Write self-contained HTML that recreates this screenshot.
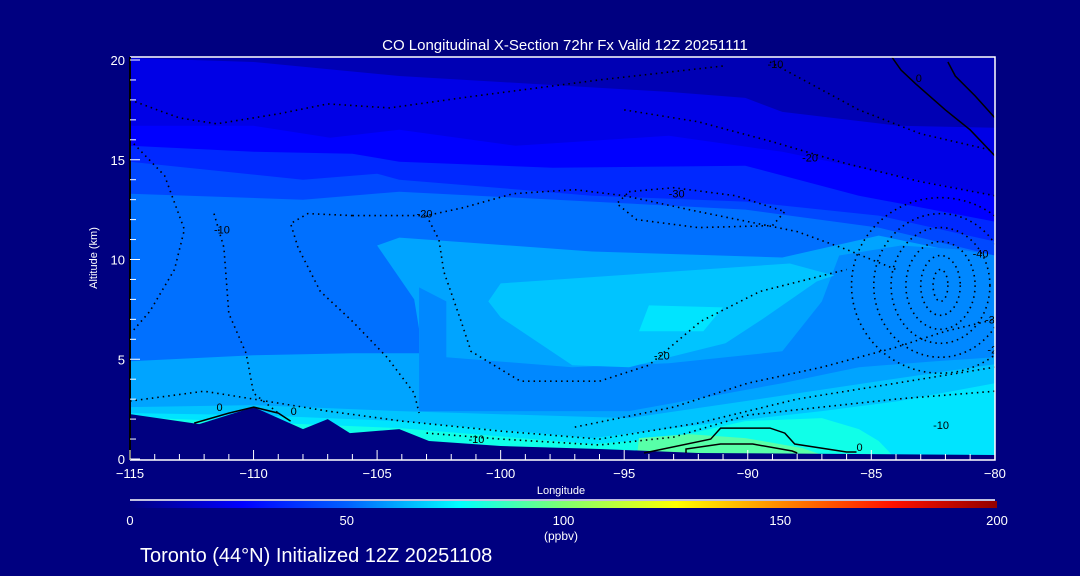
<!DOCTYPE html>
<html><head><meta charset="utf-8"><style>
body{margin:0;background:#000080;}
svg{display:block;font-family:"Liberation Sans",sans-serif;}
</style></head><body>
<svg id="chart" width="1080" height="576" viewBox="0 0 1080 576" xmlns="http://www.w3.org/2000/svg">
<defs>
<linearGradient id="cbar" x1="0" x2="1" y1="0" y2="0">
<stop offset="0" stop-color="#000080"/><stop offset="0.13" stop-color="#0000ff"/><stop offset="0.25" stop-color="#0060ff"/><stop offset="0.38" stop-color="#00ffff"/><stop offset="0.5" stop-color="#80ff70"/><stop offset="0.63" stop-color="#ffff00"/><stop offset="0.76" stop-color="#ff8000"/><stop offset="0.88" stop-color="#ff1000"/><stop offset="1" stop-color="#900000"/>
</linearGradient>
<clipPath id="plotclip"><rect x="130" y="57" width="865" height="403"/></clipPath>
</defs>
<rect width="1080" height="576" fill="#000080"/>
<g id="fills" clip-path="url(#plotclip)"></g>
<g id="contours" clip-path="url(#plotclip)"></g>
<g id="axes"></g>
<text x="565" y="50" fill="#fff" font-size="15" text-anchor="middle">CO Longitudinal X-Section 72hr  Fx Valid 12Z 20251111</text>
<text x="97" y="258" fill="#fff" font-size="11" text-anchor="middle" transform="rotate(-90 97 258)">Altitude (km)</text>
<text x="561" y="494" fill="#fff" font-size="11" text-anchor="middle">Longitude</text>
<line x1="130" y1="500" x2="995" y2="500" stroke="#fff" stroke-width="1.5"/>
<rect x="130" y="501" width="867" height="7" fill="url(#cbar)"/>
<g id="cbticks"></g>
<text x="561" y="540" fill="#fff" font-size="12" text-anchor="middle">(ppbv)</text>
<text x="140" y="562" fill="#fff" font-size="20">Toronto (44°N) Initialized 12Z 20251108</text>
</svg>
<script>
// Axis ranges
const lonTicks = [-115,-110,-105,-100,-95,-90,-85,-80];
const altTicks = [0,5,10,15,20];
const cbarTicks = [0,50,100,150,200];
// Contour fill bands (lon, alt) - boundary lines, filled downward
const bandColors = ['#0000e6','#0000ff','#0028ff','#0048ff','#0070ff'];
const band1 = [[-115,20.1],[-110,19.9],[-104.1,19.2],[-93.2,18.4],[-90.1,18.1],[-88.6,17.4],[-83.9,16.7],[-80,16.6]];
const band2 = [[-115,16.7],[-110,16.7],[-106.9,16.1],[-104.1,16.5],[-99.4,15.7],[-93.2,16.2],[-88.6,15.4],[-83.9,14.2],[-80,13.2]];
const band3 = [[-115,15.7],[-110,15.4],[-106,15.3],[-104.1,14.9],[-97.9,14.6],[-90.1,14.7],[-85.5,13.2],[-80,11.9]];
const band4 = [[-115,14.9],[-108,14.0],[-105,14.3],[-104.1,14.0],[-96.3,13.2],[-90.1,12.9],[-84.7,12.2],[-80,10.9]];
const band5 = [[-115,13.3],[-108,13.0],[-104.1,13.4],[-96.3,12.9],[-90.1,12.5],[-84.7,11.6],[-80,10.2]];
const band6 = [[-115,4.9],[-110,5.2],[-106,5.3],[-103.3,5.3],[-103.3,6.5],[-103.5,8],[-105,10.7],[-104.1,11.1],[-96.3,10.4],[-88.6,10.1],[-84.7,11.2],[-80.8,10.2],[-80,9.8]];
const patchDark = [[-103.3,8.6],[-102.2,7.9],[-102.2,5.1],[-97.1,4.6],[-93.2,4.8],[-88.6,5.4],[-87,7.9],[-86.3,10.2],[-83.8,10.7],[-81.4,10.5],[-80,10.2],[-80,5.1],[-82.4,4.9],[-85.5,4.6],[-88.6,3.8],[-91.7,3.1],[-94.8,2.4],[-103.3,2.4]];
const patchLight = [[-100.5,7.9],[-100,8.8],[-88.3,9.8],[-86.5,9.2],[-87.2,8.9],[-89.3,7.1],[-90.9,5.8],[-94.8,4.6],[-97.1,4.7],[-100,7.1]];
const patchLighter = [[-94,7.7],[-91,7.6],[-91.8,6.4],[-94.4,6.4]];
const surf1 = [[-115,2.6],[-110,2.7],[-104.1,2.4],[-94.8,2.05],[-90.1,2.9],[-83.9,4.05],[-80,4.75]];
const surf2 = [[-115,2.3],[-110,2.2],[-104.1,1.9],[-96.3,1.05],[-91.7,1.75],[-87,2.4],[-83.9,2.9],[-80,3.8]];
const surf3 = [[-115,2.1],[-104.1,1.55],[-96.3,0.75],[-93.2,1.05],[-90.1,1.9],[-87,2.05],[-85.5,1.5],[-84.7,0.9],[-84,0]];
const surf4 = [[-94.5,0],[-94.4,1.05],[-92.4,1.25],[-90.1,1.05],[-87.8,0.55],[-86.5,0]];
const terrain = [[-115,2.25],[-112.2,1.75],[-110,2.6],[-108,1.5],[-107,2.0],[-106.1,1.3],[-104.1,1.5],[-102.9,0.9],[-100,0.65],[-96,0.5],[-92,0.3],[-80,0.2]];
// Contour lines
const solidTop1 = [[-84.2,20.2],[-83.8,19.5],[-83.2,18.8],[-82,17.5],[-81,16.5],[-80,15.2]];
const solidTop2 = [[-81.9,19.9],[-81.6,19.2],[-80.8,18.2],[-80,17.1]];
const solidSurfOuter = [[-94.2,0.3],[-91.5,1.0],[-91.1,1.55],[-89.1,1.55],[-88.5,1.3],[-88.1,0.75],[-86,0.35],[-85.6,0.35]];
const solidSurfInner = [[-92.5,0.3],[-92.5,0.5],[-91.1,0.75],[-89.8,0.75],[-88.2,0.4],[-88,0.3]];
const solidLeft = [[-112.4,1.8],[-111,2.3],[-110,2.6],[-109,2.3],[-108.5,1.9]];
const dotA = [[-115,16],[-113.6,14.2],[-112.8,11.5],[-113.2,9.5],[-114.2,7.4],[-114.9,6.4]];
const dotB = [[-111.6,12.3],[-111.2,10.6],[-111,7.3],[-110.3,5.3],[-110,3.3],[-109,2.3]];
const dotC = [[-106,12.2],[-107.8,12.3],[-108.5,11.8],[-108.2,10.6],[-107.3,8.4],[-106,6.9],[-104.6,5.1],[-103.5,3.3],[-103.3,2.3]];
const dotD = [[-106,12.2],[-103,12.2],[-101.5,12.6],[-99.5,13.3],[-97,13.5],[-95,13.2],[-92,12.4],[-88,11.4],[-86,10.5],[-84,9.5]];
const dotE = [[-103,12.2],[-102.5,11],[-102.3,9.4],[-101.6,6.9],[-101.2,5.4],[-99.2,3.9],[-96,3.9],[-94,4.7],[-91.9,6.9],[-90.3,7.9],[-89.5,8.4],[-87.9,8.9],[-86,9.5]];
const dotF = [[-94.8,13.4],[-93,13.6],[-90.5,13.2],[-88.5,12.4],[-89,11.7],[-92,11.6],[-94.5,12],[-95.3,12.8],[-94.8,13.4]];
const dotG = [[-115,2.9],[-112,3.4],[-110,3.0],[-107,2.4],[-104,1.9],[-100,1.4],[-96,1.0],[-92,1.8],[-88,3.0],[-84,3.8],[-80,4.6]];
const dotH = [[-103,1.3],[-100,1.0],[-96,0.7],[-93,1.1],[-90,2.2],[-87,2.6],[-84,3.0],[-80,3.4]];
const dotI = [[-97,1.6],[-93,2.6],[-90,3.8],[-87,4.6],[-84,5.6],[-82,6.4],[-80,7.0]];
const dotJ = [[-89.1,19.9],[-87,18.5],[-85.5,17.5],[-83,16.3],[-80.2,15.5]];
const dotK = [[-115,18],[-113,17.1],[-111.5,16.8],[-109,17.3],[-107,17.8],[-104.5,17.6],[-101,18.2],[-96,19],[-91,19.7]];
const dotL = [[-95,17.5],[-92,16.9],[-89,15.9],[-86,14.8],[-83,13.9],[-80,13.2]];
const blobCenter = [-82.2,8.7];
const blobRadLon = [0.3,0.8,1.4,2.0,2.7,3.6];
const blobRadAlt = [0.8,1.5,2.2,2.9,3.6,4.4];
const contourLabels = [["-10",-89.2,19.6],["-20",-87.8,14.9],["-30",-93.2,13.1],["-20",-103.4,12.1],["-10",-111.6,11.3],["-40",-80.9,10.1],["-30",-80.4,6.8],["-20",-80.3,5.3],["-10",-82.5,1.5],["-10",-101.3,0.8],["0",-111.5,2.4],["0",-108.5,2.2],["0",-85.6,0.4],["-20",-93.8,5.0],["0",-83.2,18.9]];

const X = lon => 130 + (lon + 115) * 24.71;
const Y = alt => 459 - alt * 19.95;
const NS = 'http://www.w3.org/2000/svg';
const fills = document.getElementById('fills');
const cont = document.getElementById('contours');
const axes = document.getElementById('axes');
function pts(arr){return arr.map(p => X(p[0]).toFixed(1)+','+Y(p[1]).toFixed(1)).join(' ');}
function downPoly(arr){
  const a = arr.slice();
  return pts(a) + ' ' + X(a[a.length-1][0]).toFixed(1)+','+Y(-1) + ' ' + X(a[0][0]).toFixed(1)+','+Y(-1);
}
function addPoly(parent, p, fill, name){
  const e = document.createElementNS(NS,'polygon');
  e.setAttribute('points', p); e.setAttribute('fill', fill);
  
  
  parent.appendChild(e);
}
function addLine(parent, arr, dotted, name){
  const e = document.createElementNS(NS,'polyline');
  e.setAttribute('points', pts(arr)); e.setAttribute('fill','none'); e.setAttribute('stroke','#000');
  e.setAttribute('stroke-width', dotted ? '1.6' : '1.5');
  if (dotted) e.setAttribute('stroke-dasharray','1.5,4');
  
  
  parent.appendChild(e);
}
const topRect = document.createElementNS(NS,'rect');
topRect.setAttribute('x',130); topRect.setAttribute('y',57); topRect.setAttribute('width',865); topRect.setAttribute('height',403); topRect.setAttribute('fill','#0000b4');


fills.appendChild(topRect);
[band1,band2,band3,band4,band5].forEach((b,i)=>addPoly(fills, downPoly(b), bandColors[i], 'fill-band-'+(i+1)));
addPoly(fills, downPoly(band6), '#00a4ff', 'fill-band-6');
addPoly(fills, pts(patchDark), '#0088ff', 'fill-patch-dark');
addPoly(fills, pts(patchLight), '#00c4ff', 'fill-patch-light');
addPoly(fills, pts(patchLighter), '#00e4ff', 'fill-patch-lighter');
addPoly(fills, downPoly(surf1), '#00c4ff', 'fill-surface-1');
addPoly(fills, downPoly(surf2), '#00e4ff', 'fill-surface-2');
addPoly(fills, downPoly(surf3), '#10ffe8', 'fill-surface-3');
addPoly(fills, downPoly(surf4), '#58ffa8', 'fill-surface-4');
addPoly(fills, downPoly(terrain), '#000080', 'terrain');
addLine(cont, solidTop1, false, 'contour-zero-top');
addLine(cont, solidTop2, false, 'contour-zero-top-2');
addLine(cont, solidSurfOuter, false, 'contour-surface-outer');
addLine(cont, solidSurfInner, false, 'contour-surface-inner');
addLine(cont, solidLeft, false, 'contour-zero-left');
[dotA,dotB,dotC,dotD,dotE,dotF,dotG,dotH,dotI,dotJ,dotK,dotL].forEach((d,i)=>addLine(cont, d, true, 'contour-dotted-'+i));
blobRadLon.forEach((rl,i)=>{
  const e = document.createElementNS(NS,'ellipse');
  e.setAttribute('cx', X(blobCenter[0])); e.setAttribute('cy', Y(blobCenter[1]));
  e.setAttribute('rx', rl*24.71); e.setAttribute('ry', blobRadAlt[i]*19.95);
  e.setAttribute('fill','none'); e.setAttribute('stroke','#000'); e.setAttribute('stroke-width','1.6'); e.setAttribute('stroke-dasharray','1.5,4');
  
  
  cont.appendChild(e);
});
contourLabels.forEach(l=>{
  const t = document.createElementNS(NS,'text');
  t.setAttribute('x', X(l[1])); t.setAttribute('y', Y(l[2])); t.setAttribute('font-size','11'); t.setAttribute('fill','#000');
  t.textContent = l[0];
  
  
  cont.appendChild(t);
});
function mk(tag, attrs, parent){const e=document.createElementNS(NS,tag);for(const k in attrs)e.setAttribute(k,attrs[k]);parent.appendChild(e);return e;}
const frame = mk('path',{d:'M130,57 H995 V460 H130',fill:'none',stroke:'#fff','stroke-width':'1.5'},axes);


const leftAxis = mk('line',{x1:130,y1:57,x2:130,y2:460,stroke:'#000','stroke-width':'2'},axes);


for(let lon=-115; lon<=-80; lon++){
  const major = lonTicks.includes(lon);
  const t = mk('line',{x1:X(lon),x2:X(lon),y1:460,y2:major?450:454,stroke:'#fff','stroke-width':'1'},axes);
  
  
}
lonTicks.forEach(v=>{
  const t = mk('text',{x:X(v),y:478,fill:'#fff','font-size':'13','text-anchor':'middle'},axes);
  t.textContent = v < 0 ? '\u2212'+Math.abs(v) : v;
  
  
});
for(let a=0;a<=20;a++){
  const major = altTicks.includes(a);
  const t = mk('line',{x1:130,x2:major?140:136,y1:Y(a),y2:Y(a),stroke:'#fff','stroke-width':'1'},axes);
  
  
}
altTicks.forEach(v=>{
  const t = mk('text',{x:125,y:Y(v)+5,fill:'#fff','font-size':'13','text-anchor':'end'},axes);
  t.textContent = v;
  
  
});
const cb = document.getElementById('cbticks');
cbarTicks.forEach(v=>{
  const t = mk('text',{x:130+v/200*867,y:525,fill:'#fff','font-size':'13','text-anchor':'middle'},cb);
  t.textContent = v;
  
  
});
</script>
</body></html>
